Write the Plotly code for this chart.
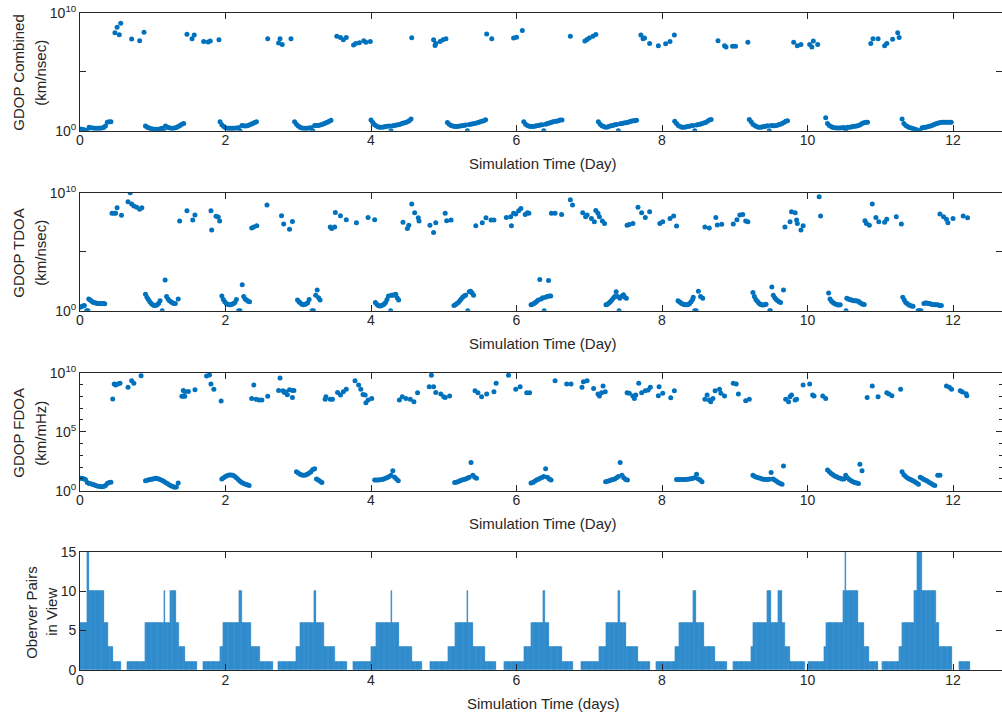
import plotly.graph_objects as go

# ---------------- DATA ----------------
SAMPLE_STEP = 0.025      # days between simulation samples in the dense arcs
BAR_STEP = 1.0 / 60.0    # days between bar samples (observer pair counts)

X_TICKS = [0, 2, 4, 6, 8, 10, 12]

# Panel 1: GDOP Combined  (values given as log10 of GDOP)
P1_UPPER = [(0.48, 8.3), (0.51, 8.76), (0.54, 8.14), (0.56, 9.1), (0.71, 7.77), (0.82, 7.63), (0.88, 8.34),
            (1.47, 8.17), (1.54, 7.8), (1.57, 8.1), (1.70, 7.55), (1.76, 7.52), (1.79, 7.6), (1.91, 7.7),
            (2.58, 7.8), (2.73, 7.43), (2.75, 7.8), (2.78, 7.3), (2.90, 7.8),
            (3.53, 8.0), (3.58, 7.9), (3.62, 7.7), (3.66, 7.9), (3.76, 7.26), (3.79, 7.4), (3.84, 7.45),
            (3.90, 7.63), (3.93, 7.5), (3.99, 7.55),
            (4.56, 7.88), (4.86, 7.7), (4.89, 7.4), (4.88, 7.22), (4.95, 7.55), (4.99, 7.7), (5.03, 7.8),
            (5.59, 8.2), (5.66, 7.8), (5.96, 7.86), (6.00, 7.93), (6.08, 8.5),
            (6.74, 8.0), (6.94, 7.6), (6.97, 7.72), (7.00, 7.86), (7.05, 8.0), (7.09, 8.16),
            (7.71, 8.1), (7.74, 7.8), (7.76, 7.85), (7.83, 7.4), (7.95, 7.2), (8.05, 7.36), (8.11, 7.55), (8.17, 8.1),
            (8.77, 7.63), (8.86, 7.2), (8.88, 7.1), (8.97, 7.15), (9.01, 7.15), (9.18, 7.5),
            (9.81, 7.5), (9.86, 7.2), (9.91, 7.3), (10.03, 7.3), (10.08, 7.6), (10.06, 7.1), (10.14, 7.3),
            (10.87, 7.4), (10.90, 7.8), (10.97, 7.8), (11.06, 7.2), (11.09, 7.4), (11.17, 7.75), (11.24, 8.3),
            (11.26, 7.9)]

P1_ARC_START = [0.0, 0.9, 1.925, 2.95, 4.0, 5.05, 6.1, 7.125, 8.175, 9.2, 10.25, 11.3]
P1_ARC_LOG = [
    [0.15, 0.12, 0.1, 0.02, 0.0, 0.3, 0.25, 0.22, 0.2, 0.2, 0.2, 0.2, 0.22, 0.28, 0.4, 0.72, 0.75, 0.75],
    [0.4, 0.3, 0.22, 0.17, 0.14, 0.12, 0.12, 0.12, 0.14, 0.2, 0.0, 0.4, 0.3, 0.25, 0.2, 0.2, 0.22, 0.28,
     0.35, 0.45, 0.55, 0.62],
    [0.75, 0.5, 0.35, 0.25, 0.2, 0.2, 0.2, 0.2, 0.2, 0.22, 0.25, 0.0, 0.45, 0.42, 0.4, 0.42, 0.48, 0.55,
     0.62, 0.7, 0.75],
    [0.75, 0.55, 0.4, 0.3, 0.22, 0.2, 0.2, 0.2, 0.22, 0.25, 0.0, 0.45, 0.45, 0.45, 0.48, 0.52, 0.58, 0.65,
     0.72, 0.8, 0.88],
    [0.9, 0.7, 0.5, 0.4, 0.32, 0.3, 0.3, 0.32, 0.35, 0.38, 0.4, 0.0, 0.42, 0.45, 0.48, 0.5, 0.55, 0.6,
     0.65, 0.7, 0.75, 0.85, 1.0],
    [0.7, 0.55, 0.45, 0.4, 0.35, 0.35, 0.38, 0.4, 0.42, 0.45, 0.48, 0.0, 0.52, 0.55, 0.58, 0.62, 0.66, 0.7,
     0.75, 0.8, 0.85, 0.92],
    [0.75, 0.55, 0.45, 0.38, 0.35, 0.35, 0.38, 0.42, 0.45, 0.48, 0.5, 0.0, 0.55, 0.6, 0.65, 0.7, 0.75, 0.78,
     0.8, 0.85, 0.9, 0.9],
    [0.75, 0.55, 0.42, 0.35, 0.3, 0.32, 0.38, 0.42, 0.45, 0.5, 0.52, 0.0, 0.58, 0.6, 0.65, 0.68, 0.7, 0.75,
     0.8, 0.85, 0.85, 0.88],
    [0.8, 0.6, 0.45, 0.35, 0.3, 0.3, 0.32, 0.35, 0.38, 0.42, 0.45, 0.0, 0.48, 0.52, 0.55, 0.6, 0.65, 0.7,
     0.8, 0.9, 0.95],
    [0.95, 0.75, 0.55, 0.45, 0.35, 0.3, 0.3, 0.32, 0.35, 0.38, 0.42, 0.0, 0.45, 0.42, 0.42, 0.45, 0.5, 0.55,
     0.62, 0.7, 0.8, 0.85],
    [1.1, 0.6, 0.45, 0.35, 0.28, 0.25, 0.22, 0.22, 0.22, 0.25, 0.28, 0.0, 0.3, 0.3, 0.32, 0.35, 0.38, 0.4,
     0.45, 0.5, 0.6, 0.68, 0.72, 0.72],
    [1.0, 0.6, 0.45, 0.35, 0.28, 0.22, 0.18, 0.12, 0.08, 0.0, 0.0, 0.25, 0.28, 0.3, 0.33, 0.38, 0.42, 0.48,
     0.55, 0.6, 0.66, 0.7, 0.72, 0.72, 0.72, 0.72, 0.72, 0.72],
]

# Panel 2: GDOP TDOA
P2_UPPER = [(0.44, 8.25), (0.47, 8.25), (0.49, 8.25), (0.51, 8.73), (0.57, 8.08), (0.69, 10.0), (0.66, 9.24),
            (0.71, 9.04), (0.74, 8.87), (0.78, 8.76), (0.82, 8.59), (0.85, 8.73),
            (1.37, 7.6), (1.47, 8.47), (1.55, 7.68), (1.58, 8.1),
            (1.80, 8.47), (1.81, 6.83), (1.87, 8.0), (1.90, 7.95), (1.92, 7.6),
            (2.36, 7.0), (2.39, 7.1), (2.43, 7.2), (2.57, 8.96),
            (2.77, 8.05), (2.80, 7.35), (2.88, 6.9), (2.92, 7.55),
            (3.44, 7.1), (3.46, 6.97), (3.50, 7.1), (3.51, 8.33), (3.58, 8.05), (3.66, 7.7),
            (3.80, 7.46), (3.96, 7.9), (4.05, 7.7),
            (4.44, 7.5), (4.50, 6.97), (4.52, 7.25), (4.56, 9.04), (4.60, 8.3), (4.65, 7.88), (4.66, 7.6),
            (4.81, 7.25), (4.86, 6.62), (4.89, 7.46), (5.02, 8.25), (5.04, 7.63), (5.10, 7.68),
            (5.44, 7.2), (5.53, 7.46), (5.58, 7.88), (5.65, 7.68), (5.69, 7.68),
            (5.86, 7.9), (5.92, 7.96), (5.93, 7.2), (5.96, 8.25), (5.99, 8.19), (6.03, 8.47), (6.06, 8.67),
            (6.12, 8.16), (6.15, 8.3), (6.17, 8.25),
            (6.48, 8.25), (6.53, 8.25), (6.62, 8.16), (6.74, 9.4), (6.77, 8.96), (6.91, 8.3), (6.95, 7.96),
            (6.97, 8.1), (7.03, 7.82), (7.07, 7.54), (7.09, 8.5), (7.12, 8.25), (7.14, 7.96), (7.18, 7.6),
            (7.21, 7.4),
            (7.52, 7.25), (7.55, 7.3), (7.60, 7.4), (7.67, 8.76), (7.72, 8.3), (7.77, 7.9), (7.83, 8.39),
            (7.97, 7.4), (8.01, 7.54), (8.11, 7.82), (8.16, 8.02), (8.20, 7.18),
            (8.59, 7.1), (8.65, 7.0), (8.74, 7.9), (8.76, 7.27), (8.82, 7.32), (8.98, 7.35), (9.03, 7.7),
            (9.07, 8.1), (9.11, 8.16), (9.15, 7.6), (9.18, 7.54),
            (9.69, 7.1), (9.76, 7.54), (9.78, 8.39), (9.83, 8.3), (9.85, 7.68), (9.86, 7.4), (9.91, 6.83),
            (9.94, 7.2), (10.16, 9.66), (10.18, 8.02),
            (10.79, 7.63), (10.81, 7.4), (10.85, 7.25), (10.89, 9.04), (10.94, 7.9), (10.98, 7.54),
            (11.06, 7.49), (11.09, 7.74), (11.22, 7.96), (11.29, 7.35),
            (11.82, 8.19), (11.87, 7.96), (11.91, 7.74), (11.93, 7.46), (12.00, 7.82), (12.14, 8.02),
            (12.20, 7.88)]

P2_LOWER = [(0.0, 0.3), (0.02, 0.35), (0.04, 0.4), (0.06, 0.45), (0.09, 0.0), (0.11, 0.0), (0.12, 1.0),
            (0.14, 0.9), (0.16, 0.8), (0.18, 0.72), (0.2, 0.68), (0.22, 0.65), (0.24, 0.62), (0.26, 0.6),
            (0.28, 0.6), (0.3, 0.58), (0.32, 0.6), (0.34, 0.58),
            (0.9, 1.4), (0.92, 1.15), (0.94, 0.95), (0.96, 0.75), (0.98, 0.6), (1.0, 0.5), (1.02, 0.45),
            (1.04, 0.45), (1.06, 0.5), (1.08, 0.6), (1.1, 0.85), (1.13, 0.0), (1.17, 2.6), (1.19, 1.2),
            (1.21, 1.0), (1.23, 0.85), (1.25, 0.75), (1.27, 0.68), (1.29, 0.62), (1.31, 0.6), (1.35, 1.0),
            (1.95, 1.25), (1.97, 0.95), (1.99, 0.75), (2.01, 0.62), (2.03, 0.55), (2.05, 0.5), (2.07, 0.5),
            (2.09, 0.55), (2.11, 0.6), (2.13, 0.7), (2.15, 0.95), (2.18, 0.0), (2.2, 0.0), (2.23, 2.2),
            (2.25, 1.2), (2.27, 1.0), (2.29, 0.9), (2.31, 0.8), (2.33, 0.75),
            (2.99, 0.9), (3.01, 0.75), (3.03, 0.65), (3.05, 0.55), (3.07, 0.5), (3.09, 0.52), (3.11, 0.58),
            (3.13, 0.68), (3.15, 0.95), (3.19, 0.0), (3.21, 0.0), (3.24, 1.3), (3.26, 1.75), (3.28, 1.1),
            (3.3, 0.9),
            (4.06, 0.7), (4.08, 0.55), (4.1, 0.45), (4.12, 0.4), (4.14, 0.42), (4.16, 0.48), (4.18, 0.55),
            (4.2, 0.7), (4.22, 0.95), (4.24, 1.25), (4.27, 0.0), (4.28, 1.3), (4.3, 1.3), (4.32, 1.35),
            (4.34, 1.4), (4.36, 1.1), (4.38, 0.9),
            (5.14, 0.45), (5.16, 0.5), (5.18, 0.6), (5.2, 0.7), (5.22, 0.85), (5.24, 1.0), (5.26, 1.15),
            (5.28, 1.25), (5.3, 1.3), (5.33, 0.0), (5.35, 1.6), (5.37, 1.65), (5.39, 1.5), (5.41, 1.3),
            (6.2, 0.5), (6.22, 0.55), (6.24, 0.62), (6.26, 0.7), (6.28, 0.8), (6.3, 0.9), (6.32, 2.65),
            (6.34, 1.0), (6.36, 1.1), (6.38, 0.0), (6.4, 1.15), (6.42, 1.2), (6.44, 2.55), (6.45, 1.25),
            (6.47, 1.25),
            (7.23, 0.5), (7.25, 0.55), (7.27, 0.65), (7.29, 0.75), (7.31, 0.9), (7.33, 1.05), (7.35, 1.2),
            (7.37, 1.6), (7.39, 1.2), (7.41, 0.0), (7.42, 1.05), (7.45, 1.25), (7.47, 1.35), (7.49, 1.15),
            (7.51, 1.05),
            (8.22, 0.85), (8.24, 0.75), (8.26, 0.65), (8.28, 0.58), (8.3, 0.52), (8.32, 0.5), (8.34, 0.5),
            (8.36, 0.52), (8.38, 0.6), (8.4, 0.75), (8.42, 0.95), (8.43, 1.15), (8.45, 0.0), (8.47, 0.0),
            (8.5, 1.65), (8.53, 1.2), (8.56, 1.05),
            (9.25, 1.55), (9.27, 1.2), (9.29, 0.95), (9.31, 0.8), (9.33, 0.65), (9.35, 0.55), (9.37, 0.5),
            (9.39, 0.48), (9.41, 0.5), (9.43, 0.55), (9.48, 0.0), (9.49, 0.0), (9.51, 2.0), (9.53, 1.3),
            (9.55, 1.1), (9.57, 0.95), (9.59, 0.85), (9.61, 0.75), (9.63, 0.7), (9.67, 1.75),
            (10.29, 1.5), (10.31, 1.0), (10.33, 0.8), (10.35, 0.7), (10.37, 0.62), (10.39, 0.55),
            (10.41, 0.5), (10.43, 0.48), (10.45, 0.5), (10.53, 0.0), (10.54, 1.05), (10.56, 1.0),
            (10.58, 0.95), (10.6, 0.9), (10.62, 0.88), (10.64, 0.85), (10.66, 0.85), (10.68, 0.82),
            (10.7, 0.8), (10.72, 0.7), (10.74, 0.62), (10.76, 0.55), (10.78, 0.52),
            (11.31, 1.15), (11.33, 0.9), (11.35, 0.7), (11.37, 0.6), (11.39, 0.5), (11.41, 0.45),
            (11.43, 0.4), (11.45, 0.38), (11.52, 0.0), (11.54, 0.0), (11.56, 0.0), (11.6, 0.6),
            (11.62, 0.65), (11.64, 0.65), (11.66, 0.62), (11.68, 0.6), (11.7, 0.55), (11.72, 0.52),
            (11.74, 0.5), (11.76, 0.5), (11.78, 0.5), (11.8, 0.48), (11.82, 0.45), (11.84, 0.45)]

# Panel 3: GDOP FDOA
P3_UPPER = [(0.45, 7.77), (0.47, 9.04), (0.49, 8.96), (0.52, 9.04), (0.55, 9.1), (0.66, 8.76), (0.71, 9.32),
            (0.74, 9.1), (0.84, 9.74),
            (1.40, 8.0), (1.42, 8.0), (1.44, 8.0), (1.42, 8.5), (1.44, 8.4), (1.49, 8.4), (1.58, 8.55),
            (1.74, 9.72), (1.78, 9.8), (1.80, 9.04), (1.84, 8.59), (1.94, 7.6),
            (2.36, 7.82), (2.39, 8.96), (2.42, 7.74), (2.46, 7.68), (2.50, 7.68), (2.58, 8.0),
            (2.73, 8.5), (2.75, 9.55), (2.79, 8.47), (2.81, 8.33), (2.83, 8.36), (2.85, 8.13), (2.88, 8.56),
            (2.92, 7.9), (2.94, 8.5), (2.92, 8.5),
            (3.37, 7.74), (3.38, 7.96), (3.44, 7.76), (3.47, 7.76), (3.54, 8.33), (3.58, 8.1), (3.62, 8.39),
            (3.66, 8.59),
            (3.78, 9.32), (3.83, 8.96), (3.86, 8.59), (3.89, 8.16), (3.92, 8.1), (3.93, 7.46), (3.96, 7.68),
            (4.01, 7.82),
            (4.39, 7.68), (4.43, 7.96), (4.48, 7.82), (4.54, 7.74), (4.59, 7.54), (4.64, 8.3),
            (4.83, 9.79), (4.80, 8.81), (4.86, 8.81), (4.89, 8.33), (4.96, 8.19), (5.00, 7.96), (5.02, 7.9),
            (5.08, 8.02),
            (5.43, 8.47), (5.47, 8.3), (5.52, 7.96), (5.59, 8.19), (5.69, 8.39), (5.72, 9.1),
            (5.89, 9.79), (5.99, 8.59), (6.05, 8.81), (6.14, 8.3), (6.18, 8.3),
            (6.53, 9.32), (6.69, 9.04), (6.75, 9.04), (6.90, 8.76), (6.92, 9.24), (6.97, 9.32), (7.06, 8.67),
            (7.12, 8.19), (7.14, 8.02), (7.17, 8.3), (7.19, 8.87), (7.22, 8.39),
            (7.52, 8.3), (7.55, 8.25), (7.60, 8.02), (7.62, 7.82), (7.64, 8.1), (7.68, 9.1), (7.72, 8.3),
            (7.77, 8.47), (7.81, 8.53), (7.84, 8.76),
            (7.96, 8.81), (8.01, 8.25), (8.12, 7.88), (8.17, 8.47), (7.95, 8.05),
            (8.59, 7.74), (8.62, 8.1), (8.65, 7.68), (8.67, 7.54), (8.70, 7.82), (8.73, 8.47), (8.79, 8.59),
            (8.81, 8.25), (8.86, 8.02), (8.98, 9.1), (9.02, 9.04), (9.05, 8.19), (9.15, 7.63), (9.20, 7.74),
            (9.70, 7.74), (9.74, 7.54), (9.76, 7.96), (9.78, 8.1), (9.83, 7.68), (9.85, 7.74), (9.94, 8.96),
            (10.03, 9.04), (10.07, 8.1), (10.09, 8.02), (10.21, 8.02), (10.25, 7.82),
            (10.82, 7.9), (10.89, 8.87), (10.97, 7.96), (11.09, 8.3), (11.12, 8.19), (11.16, 8.05),
            (11.28, 8.59),
            (11.91, 8.87), (11.95, 8.76), (11.98, 8.59), (12.10, 8.47), (12.13, 8.36), (12.18, 8.22),
            (12.19, 8.05)]

P3_ARC_START = [0.0, 0.9, 1.95, 2.975, 4.05, 5.15, 6.2, 7.225, 8.2, 9.25, 10.275, 11.3]
P3_ARC_LOG = [
    [1.05, 1.05, 1.02, 0.95, 0.7, 0.62, 0.58, 0.52, 0.48, 0.42, 0.38, 0.35, 0.33, 0.35, 0.45, 0.6, 0.7, 0.72],
    [0.85, 0.88, 0.92, 0.97, 1.0, 1.03, 1.05, 1.02, 0.95, 0.88, 0.8, 0.7, 0.6, 0.5, 0.42, 0.35, 0.3, 0.32,
     0.65],
    [1.0, 1.1, 1.2, 1.28, 1.32, 1.33, 1.3, 1.22, 1.1, 0.95, 0.8, 0.7, 0.6, 0.55, 0.5, 0.45],
    [1.6, 1.5, 1.4, 1.32, 1.3, 1.32, 1.4, 1.5, 1.6, 1.8, 1.85, 1.0, 0.9, 0.8, 0.7],
    [0.9, 0.9, 0.9, 0.92, 0.95, 1.0, 1.05, 1.12, 1.2, 1.3, 1.7, 1.15, 1.0, 0.85],
    [0.7, 0.72, 0.78, 0.85, 0.9, 0.95, 1.0, 1.05, 1.15, 2.4, 1.3, 1.15, 1.05],
    [0.65, 0.7, 0.8, 0.9, 0.98, 1.05, 1.12, 1.2, 1.85, 1.15, 1.0, 0.9],
    [0.75, 0.8, 0.85, 0.9, 0.95, 1.0, 1.1, 1.2, 2.4, 1.3, 1.1, 0.95, 0.9],
    [0.95, 0.95, 0.95, 0.95, 0.95, 0.95, 0.97, 1.0, 1.02, 1.05, 1.1, 1.4, 1.0, 0.9, 0.75],
    [1.3, 1.2, 1.15, 1.1, 1.05, 1.0, 0.98, 0.95, 0.95, 0.98, 1.55, 1.0, 0.9, 0.8, 0.7, 0.6, 0.55],
    [1.75, 1.6, 1.45, 1.35, 1.25, 1.18, 1.1, 1.05, 1.0, 1.0, 1.3, 1.1, 0.95, 0.85, 0.75, 0.7, 0.65, 0.6],
    [1.6, 1.35, 1.2, 1.08, 1.0, 0.92, 0.85, 0.75, 0.65, 0.55, 1.15, 1.05, 0.95, 0.88, 0.8, 0.7, 0.6, 0.5,
     0.45],
]
P3_EXTRA = [(9.67, 2.1), (10.72, 2.25), (10.75, 1.7), (11.79, 1.3), (11.82, 1.3)]

# Panel 4: observer pairs in view, as runs (start day, end day, count)
P4_RUNS = [(0.0, 0.1, 6), (0.1, 0.13, 15), (0.13, 0.33, 10), (0.33, 0.39, 6), (0.39, 0.45, 3), (0.45, 0.57, 1),
           (0.65, 0.9, 1), (0.9, 1.15, 6), (1.15, 1.17, 10), (1.17, 1.24, 6), (1.24, 1.32, 10), (1.32, 1.36, 6),
           (1.36, 1.44, 3), (1.44, 1.61, 1),
           (1.69, 1.93, 1), (1.93, 1.96, 3), (1.96, 2.19, 6), (2.19, 2.22, 10), (2.22, 2.35, 6), (2.35, 2.47, 3),
           (2.47, 2.65, 1),
           (2.72, 2.97, 1), (2.97, 3.02, 3), (3.02, 3.21, 6), (3.21, 3.24, 10), (3.24, 3.35, 6), (3.35, 3.5, 3),
           (3.5, 3.67, 1),
           (3.75, 4.0, 1), (4.0, 4.07, 3), (4.07, 4.27, 6), (4.27, 4.29, 10), (4.29, 4.39, 6), (4.39, 4.56, 3),
           (4.56, 4.7, 1),
           (4.81, 5.06, 1), (5.06, 5.16, 3), (5.16, 5.32, 6), (5.32, 5.34, 10), (5.34, 5.4, 6), (5.4, 5.57, 3),
           (5.57, 5.72, 1),
           (5.83, 6.1, 1), (6.1, 6.2, 3), (6.2, 6.37, 6), (6.37, 6.39, 10), (6.39, 6.45, 6), (6.45, 6.63, 3),
           (6.63, 6.78, 1),
           (6.88, 7.13, 1), (7.13, 7.23, 3), (7.23, 7.4, 6), (7.4, 7.42, 10), (7.42, 7.51, 6), (7.51, 7.67, 3),
           (7.67, 7.84, 1),
           (7.92, 8.18, 1), (8.18, 8.24, 3), (8.24, 8.43, 6), (8.43, 8.47, 10), (8.47, 8.58, 6), (8.58, 8.73, 3),
           (8.73, 8.89, 1),
           (8.98, 9.22, 1), (9.22, 9.25, 3), (9.25, 9.45, 6), (9.45, 9.5, 10), (9.5, 9.6, 6), (9.6, 9.65, 10),
           (9.65, 9.69, 6), (9.69, 9.76, 3), (9.76, 9.96, 1),
           (10.0, 10.23, 1), (10.23, 10.26, 3), (10.26, 10.49, 6), (10.49, 10.51, 10), (10.51, 10.53, 15),
           (10.53, 10.7, 10), (10.7, 10.78, 6), (10.78, 10.85, 3), (10.85, 10.97, 1),
           (11.03, 11.26, 1), (11.26, 11.3, 3), (11.3, 11.47, 6), (11.47, 11.5, 10), (11.5, 11.57, 15),
           (11.57, 11.76, 10), (11.76, 11.81, 6), (11.81, 11.99, 3),
           (12.08, 12.24, 1)]

# ---------------- BUILD ----------------
W, H = 1002, 715
BLUE = "#0072BD"
BAR_FILL = "#3a92d3"
INK = "#262626"
FONT = "Liberation Sans, Arial, sans-serif"


def px(x):
    return x / W


def py(y):
    return 1 - y / H


def arcs(starts, logs):
    t, v = [], []
    for s, vals in zip(starts, logs):
        for i, lv in enumerate(vals):
            t.append(s + i * SAMPLE_STEP)
            v.append(10 ** lv)
    return t, v


def pairs(p):
    return [a for a, _ in p], [10 ** b for _, b in p]


fig = go.Figure()
mk = dict(color=BLUE, size=5)

# Panel 1
t1a, v1a = arcs(P1_ARC_START, P1_ARC_LOG)
t1b, v1b = pairs(P1_UPPER)
fig.add_trace(go.Scatter(x=t1a + t1b, y=v1a + v1b, mode="markers", marker=mk, xaxis="x", yaxis="y"))
# Panel 2
t2a, v2a = pairs(P2_LOWER)
t2b, v2b = pairs(P2_UPPER)
fig.add_trace(go.Scatter(x=t2a + t2b, y=v2a + v2b, mode="markers", marker=mk, xaxis="x2", yaxis="y2"))
# Panel 3
t3a, v3a = arcs(P3_ARC_START, P3_ARC_LOG)
t3b, v3b = pairs(P3_UPPER)
t3c, v3c = pairs(P3_EXTRA)
fig.add_trace(go.Scatter(x=t3a + t3b + t3c, y=v3a + v3b + v3c, mode="markers", marker=mk,
                         xaxis="x3", yaxis="y3"))
# Panel 4
bt, bv, bw = [], [], []
for s, e, lev in P4_RUNS:
    n = max(1, int(round((e - s) / BAR_STEP)))
    d = (e - s) / n
    for i in range(n):
        bt.append(s + (i + 0.5) * d)
        bv.append(lev)
        bw.append(d)
fig.add_trace(go.Bar(x=bt, y=bv, width=bw,
                     marker=dict(color=BAR_FILL, line=dict(width=0.3, color=BLUE)),
                     xaxis="x4", yaxis="y4"))

XDOM = [px(80), 1.0]
XRANGE = [0, (W - 80) / 72.75]
panels = [(12.7, 130.7), (192.7, 310.7), (372.7, 490.7), (551.7, 670.0)]

axis_common = dict(showline=True, linecolor=INK, linewidth=0.8, mirror="ticks", ticks="inside",
                   ticklen=6, tickwidth=0.8, tickcolor=INK, showgrid=False, zeroline=False,
                   tickfont=dict(family=FONT, size=14, color=INK), automargin=False)

layout = dict(width=W, height=H, margin=dict(l=0, r=0, t=0, b=0), showlegend=False,
              plot_bgcolor="white", paper_bgcolor="white", bargap=0, font=dict(family=FONT, color=INK))

for k, (top, bot) in enumerate(panels):
    sx = "" if k == 0 else str(k + 1)
    layout["xaxis" + sx] = dict(domain=XDOM, range=XRANGE, tickvals=X_TICKS, anchor="y" + sx,
                                ticklabelstandoff=-3, **axis_common)
    ydict = dict(domain=[py(bot), py(top)], anchor="x" + sx, **axis_common)
    if k < 3:
        ydict.update(type="log", range=[0, 10], tickvals=[1, 1e5, 1e10])
        if k == 2:
            ydict.update(ticktext=["10<sup>0</sup>", "10<sup>5</sup>", "10<sup>10</sup>"],
                         minor=dict(tickvals=[10 ** i for i in range(1, 10) if i != 5], ticks="inside",
                                    ticklen=3, tickcolor=INK, tickwidth=0.8))
        else:
            ydict.update(ticktext=["10<sup>0</sup>", " ", "10<sup>10</sup>"])
    else:
        ydict.update(range=[0, 15], tickvals=[0, 5, 10, 15])
    layout["yaxis" + sx] = ydict

fig.update_layout(**layout)

ann = []
xt_font = dict(family=FONT, size=15, color=INK)
for (top, bot), label in zip(panels, ["Simulation Time (Day)"] * 3 + ["Simulation Time (days)"]):
    ann.append(dict(text=label, x=px(543), y=py(bot + 33), xref="paper", yref="paper", showarrow=False,
                    font=xt_font, xanchor="center", yanchor="middle"))

ylabels = [("GDOP Combined", "(km/nsec)", 18.5, 40.5),
           ("GDOP TDOA", "(km/nsec)", 18.5, 40.5),
           ("GDOP FDOA", "(km/mHz)", 18.5, 40.5),
           ("Oberver Pairs", "in View", 31.5, 51.5)]
for (top, bot), (l1, l2, x1, x2) in zip(panels, ylabels):
    yc = py((top + bot) / 2 + 1.5)
    ann.append(dict(text=l1, x=px(x1), y=yc, xref="paper", yref="paper", showarrow=False, textangle=-90,
                    font=xt_font, xanchor="center", yanchor="middle"))
    ann.append(dict(text=l2, x=px(x2), y=yc, xref="paper", yref="paper", showarrow=False, textangle=-90,
                    font=xt_font, xanchor="center", yanchor="middle"))
fig.update_layout(annotations=ann)

fig.write_html("out.html", config={"displayModeBar": False},
               post_script="document.body.style.margin='0px';")
